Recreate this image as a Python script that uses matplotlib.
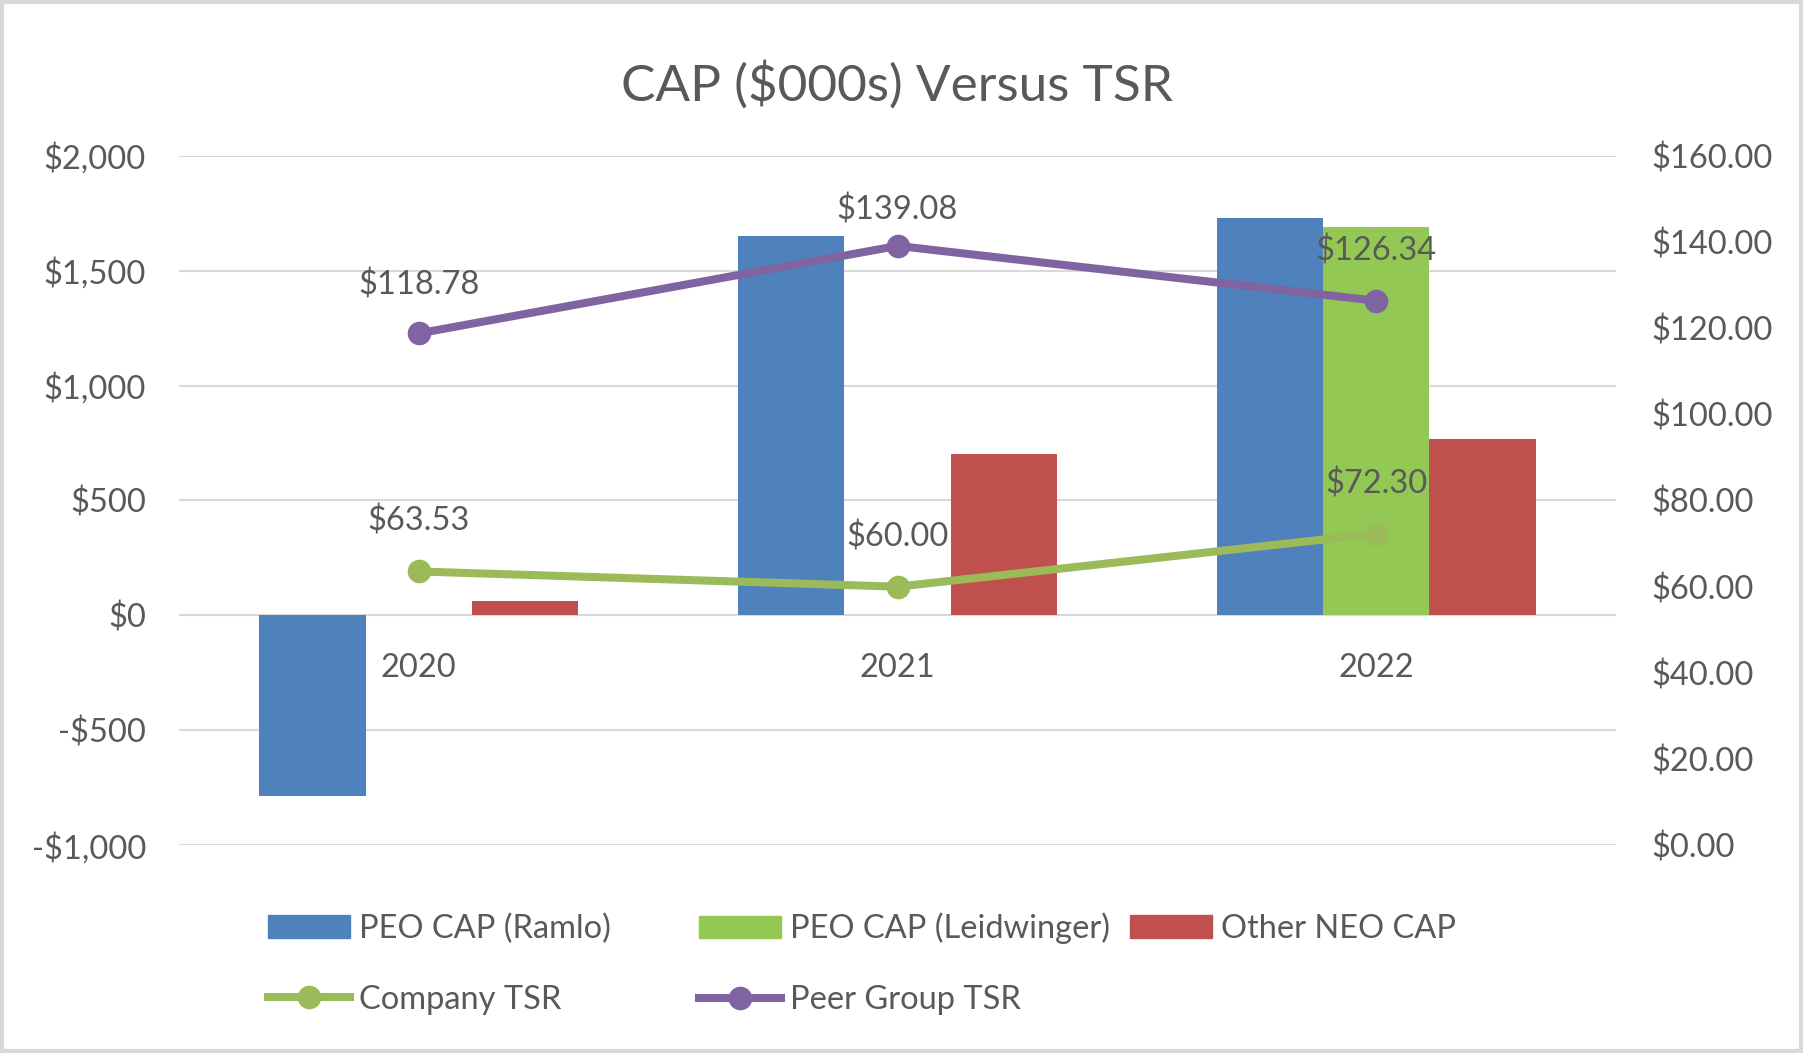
import matplotlib.pyplot as plt
from matplotlib.lines import Line2D
from matplotlib.patches import Patch, Rectangle
import numpy as np

# Chart data
years = ["2020", "2021", "2022"]
peo_ramlo = [-786, 1650, 1728]
peo_leidwinger = [0, 0, 1691]
other_neo = [64, 702, 767]
company_tsr = [63.53, 60.00, 72.30]
peer_tsr = [118.78, 139.08, 126.34]

left_ticks = [-1000, -500, 0, 500, 1000, 1500, 2000]
left_labels = ["-$1,000", "-$500", "$0", "$500", "$1,000", "$1,500", "$2,000"]
right_ticks = [0, 20, 40, 60, 80, 100, 120, 140, 160]

# Colours
blue = "#4F81BD"
green_bar = "#92C853"
red = "#C0504D"
green_line = "#9BBB59"
purple = "#8064A2"
text_col = "#595959"
grid_col = "#D9D9D9"

plt.rcParams['font.family'] = ['Lato', 'DejaVu Sans']

fig = plt.figure(figsize=(18.03, 10.53), dpi=100)
ax = fig.add_axes([0.0995, 0.1973, 0.7966, 0.6548])
ax2 = ax.twinx()

x = np.arange(len(years))
w = 0.222

# Bars on the left axis
ax.bar(x - w, peo_ramlo, w, color=blue, zorder=2)
ax.bar(x, peo_leidwinger, w, color=green_bar, zorder=2)
ax.bar(x + w, other_neo, w, color=red, zorder=2)

ax.set_xlim(-0.5, 2.5)
ax.set_ylim(-1000, 2000)
ax.set_yticks(left_ticks)
ax.set_yticklabels(left_labels)
ax.grid(axis='y', color=grid_col, linewidth=1.5, zorder=0)
ax.set_axisbelow(True)

ax.set_xticks(x)
ax.set_xticklabels(years)
ax.spines['bottom'].set_position(('data', 0))
for s in ax.spines.values():
    s.set_visible(False)
for s in ax2.spines.values():
    s.set_visible(False)
ax.tick_params(axis='x', length=0, pad=27, labelsize=23.5, labelcolor=text_col)
ax.tick_params(axis='y', length=0, pad=24, labelsize=23.5, labelcolor=text_col)

# TSR lines on the right axis
ax2.plot(x, company_tsr, color=green_line, linewidth=5.8, marker='o',
         markersize=16, zorder=3)
ax2.plot(x, peer_tsr, color=purple, linewidth=5.8, marker='o',
         markersize=16, zorder=3)
ax2.set_ylim(0, 160)
ax2.set_yticks(right_ticks)
ax2.set_yticklabels(["${:.2f}".format(v) for v in right_ticks])
ax2.tick_params(axis='y', length=0, pad=26, labelsize=23.5, labelcolor=text_col)

# Data labels (offsets in pixels above each point)
company_offsets = [50, 50, 50]
peer_offsets = [48, 36, 50]
for i, v in enumerate(company_tsr):
    ax2.annotate("${:.2f}".format(v), (x[i], v), xytext=(0, company_offsets[i]),
                 textcoords='offset pixels', ha='center', va='center',
                 fontsize=23.5, color=text_col, zorder=4)
for i, v in enumerate(peer_tsr):
    ax2.annotate("${:.2f}".format(v), (x[i], v), xytext=(0, peer_offsets[i]),
                 textcoords='offset pixels', ha='center', va='center',
                 fontsize=23.5, color=text_col, zorder=4)

fig.text(0.4975, 0.919, "CAP ($000s) Versus TSR", ha='center', va='center',
         fontsize=37, color=text_col)

# Legend, one block per column
h_ramlo = Patch(color=blue)
h_leid = Patch(color=green_bar)
h_other = Patch(color=red)
h_comp = Line2D([], [], color=green_line, linewidth=5.8, marker='o', markersize=16)
h_peer = Line2D([], [], color=purple, linewidth=5.8, marker='o', markersize=16)

leg_kw = dict(frameon=False, fontsize=23.5, labelcolor=text_col, borderpad=0,
              borderaxespad=0, handlelength=2.5, handletextpad=0.3,
              labelspacing=1.25, loc='center left')
fig.legend([h_ramlo, h_comp], ["PEO CAP (Ramlo)", "Company TSR"],
           bbox_to_anchor=(268 / 1803, 0.0845), **leg_kw)
fig.legend([h_leid, h_peer], ["PEO CAP (Leidwinger)", "Peer Group TSR"],
           bbox_to_anchor=(699 / 1803, 0.0845), **leg_kw)
fig.legend([h_other], ["Other NEO CAP"],
           bbox_to_anchor=(1130 / 1803, 0.1175), **leg_kw)

# Light grey chart border
fig.patches.append(Rectangle((0.001, 0.002), 0.998, 0.996, transform=fig.transFigure,
                             fill=False, edgecolor=grid_col, linewidth=3))

fig.savefig("out.png", dpi=100)
